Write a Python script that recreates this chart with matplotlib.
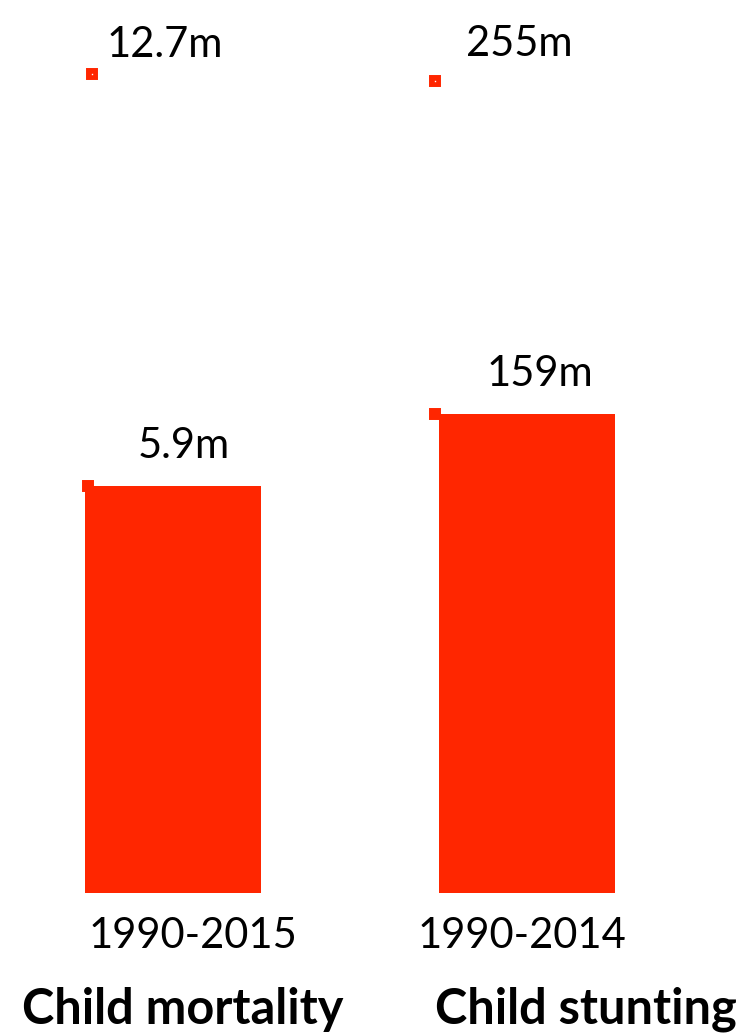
import matplotlib
matplotlib.use("Agg")
import matplotlib.pyplot as plt

# ---- data ----
titles = ["Child mortality", "Child stunting"]
periods = ["1990-2015", "1990-2014"]
start_values = [12.7, 255]
end_values = [5.9, 159]
start_labels = ["12.7m", "255m"]
end_labels = ["5.9m", "159m"]

# ---- layout / style ----
W, H = 751, 1035
RED = "#FF2600"
plt.rcParams["font.family"] = ["Lato", "DejaVu Sans"]

fig = plt.figure(figsize=(W / 100, H / 100), dpi=100)
fig.patch.set_facecolor("white")

bar_left_px = [85, 439]
bar_w_px = 176
bar_bottom_px = 893
ylims = [(-0.817, 13.92), (20.7, 278.5)]
marker_x = [-0.46, -0.523]
end_marker_x = [-0.483, -0.523]
start_off = [(73, 17), (84, 25)]
end_off = [(11, 28), (13, 28)]
period_off = [(20, -55), (-5, -55)]
title_off = [(10, -131), (59, -131)]

for i in range(2):
    ax = fig.add_axes([bar_left_px[i] / W, (H - bar_bottom_px) / H,
                       bar_w_px / W, bar_bottom_px / H])
    lo, hi = ylims[i]
    ax.set_xlim(-0.5, 0.5)
    ax.set_ylim(lo, hi)
    ax.axis("off")
    ax.bar(0, end_values[i] - lo, bottom=lo, width=1.0, color=RED,
           linewidth=0, zorder=1)
    # start value marker
    ax.plot([marker_x[i]], [start_values[i]], marker="s", ms=7.5, color=RED,
            mec=RED, mew=1.4, clip_on=False, zorder=3)
    ax.plot([marker_x[i]], [start_values[i]], marker="s", ms=1, color="white",
            mec="white", mew=0, clip_on=False, zorder=4)
    # end value marker at bar corner
    ax.plot([end_marker_x[i]], [end_values[i]], marker="s", ms=6.5, color=RED,
            mec=RED, mew=1.4, clip_on=False, zorder=3)
    ax.annotate(start_labels[i], xy=(marker_x[i], start_values[i]),
                xytext=start_off[i], textcoords="offset pixels",
                ha="center", va="baseline", fontsize=30, color="black",
                annotation_clip=False)
    ax.annotate(end_labels[i], xy=(0, end_values[i]),
                xytext=end_off[i], textcoords="offset pixels",
                ha="center", va="baseline", fontsize=30, color="black",
                annotation_clip=False)
    ax.annotate(periods[i], xy=(0, 0), xycoords=("data", "axes fraction"),
                xytext=period_off[i], textcoords="offset pixels",
                ha="center", va="baseline", fontsize=30, color="black",
                annotation_clip=False)
    ax.annotate(titles[i], xy=(0, 0), xycoords=("data", "axes fraction"),
                xytext=title_off[i], textcoords="offset pixels",
                ha="center", va="baseline", fontsize=35, fontweight="bold",
                color="black", annotation_clip=False)

fig.savefig("out.png", dpi=100, facecolor="white")
